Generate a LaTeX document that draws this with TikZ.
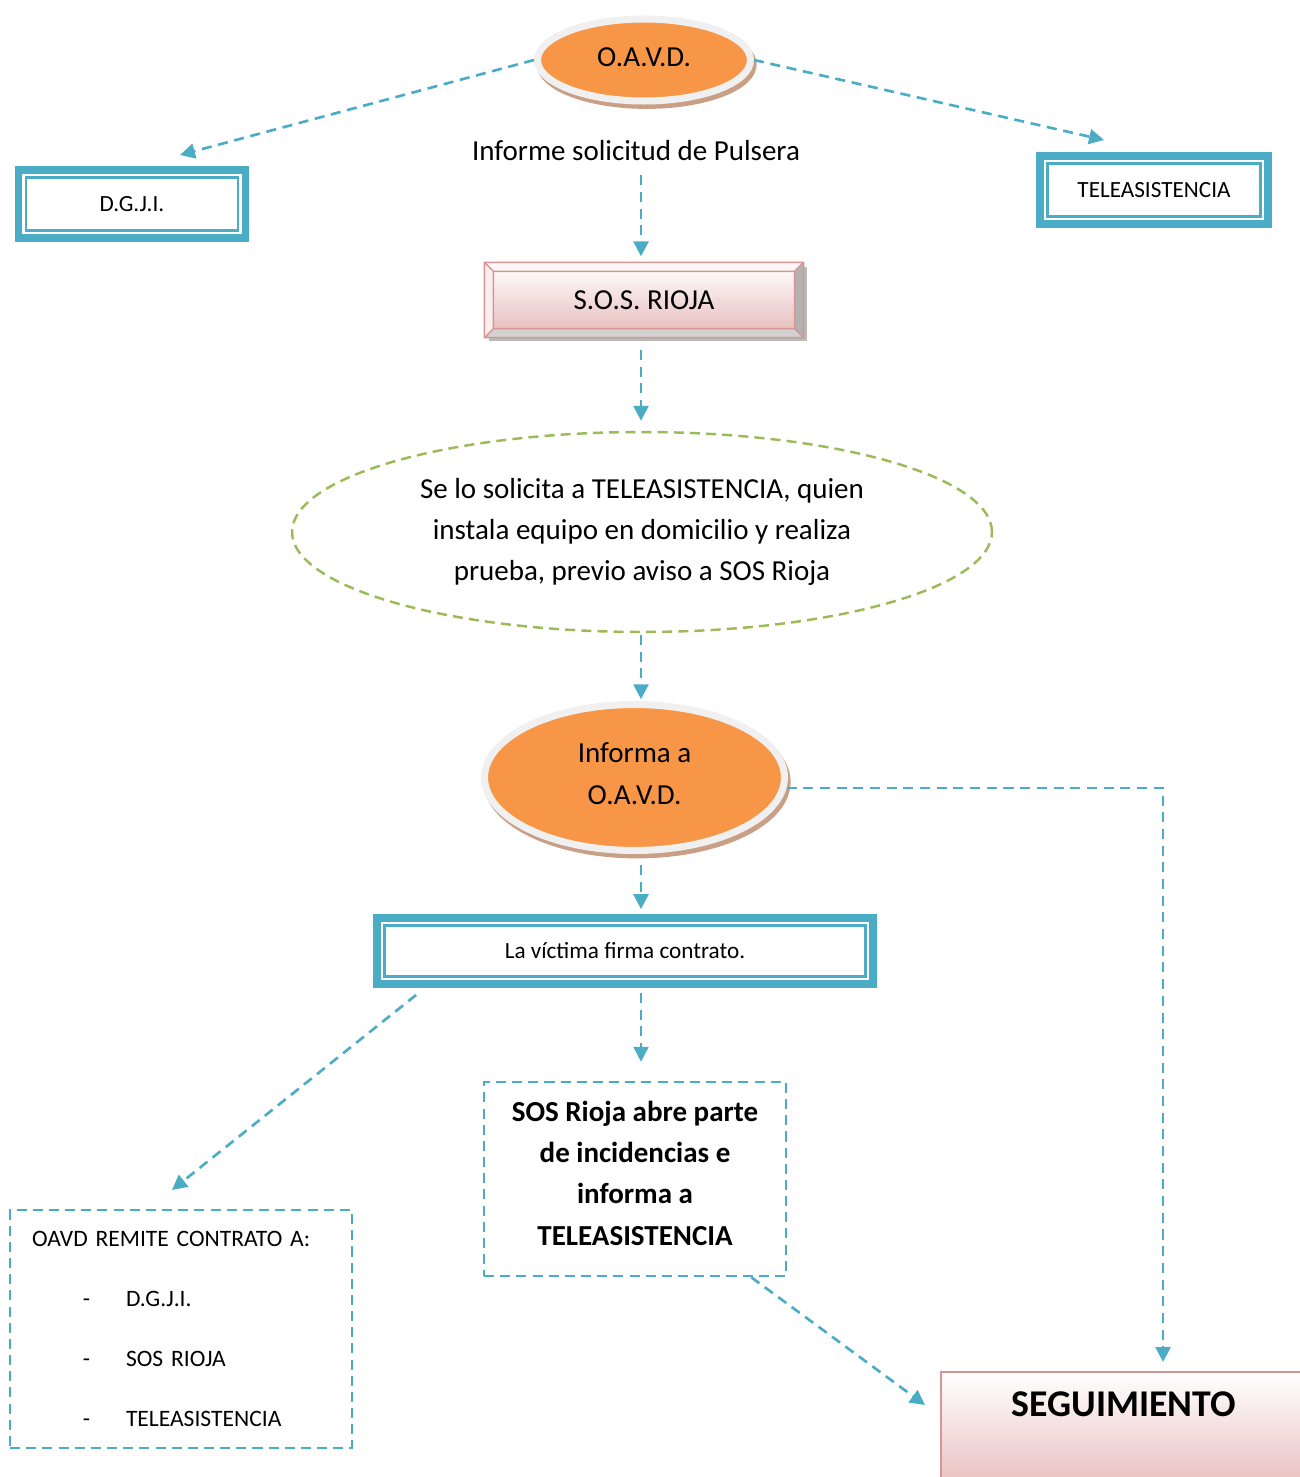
\documentclass[tikz,border=0pt]{standalone}
\usepackage{fontspec}
\setmainfont{Carlito}
\usetikzlibrary{shapes.geometric,arrows.meta}
\definecolor{azul}{HTML}{4BACC6}
\definecolor{naranja}{HTML}{F79646}
\definecolor{verde}{HTML}{9BBB59}
\definecolor{rosa}{HTML}{D99594}
\definecolor{rosaclaro}{HTML}{E6B9B8}
\definecolor{anillo}{HTML}{F0F0F0}
\definecolor{sombra}{HTML}{C9A086}
\begin{document}
\begin{tikzpicture}[x=0.02cm,y=-0.02cm,
	flecha/.style={azul,line width=1.5pt,dash pattern=on 5.7pt off 3.8pt,-{Triangle[length=8.5pt,width=8.5pt]}},
	marco/.style={draw=azul,line width=4.5pt,fill=white,font=\fontsize{13.2}{15}\selectfont},
	burbuja/.style={ellipse,fill=naranja,draw=anillo,line width=4pt,inner sep=0pt,align=center,
		preaction={fill=sombra,draw=sombra,line width=4pt,transform canvas={shift={(1.5pt,-2.5pt)}}},
		font=\fontsize{16.5}{24.4}\selectfont},
	caja/.style={draw=azul,line width=1.5pt,dash pattern=on 5.7pt off 3.5pt}]
	\useasboundingbox (0,0) rectangle (1300,1477);
	\clip (0,0) rectangle (1300,1477);
	% cabecera
	\node[burbuja,minimum width=4.26cm,minimum height=1.64cm] (oavd) at (644,60) {O.A.V.D.\rule[-3.4pt]{0pt}{3.4pt}};
	\node[font=\fontsize{16.5}{20}\selectfont] (informe) at (636,151) {Informe solicitud de Pulsera};
	\node[marco,minimum width=4.54cm,minimum height=1.36cm] (dgji) at (132,204) {D.G.J.I.};
	\node[marco,minimum width=4.56cm,minimum height=1.36cm] (tele) at (1154,190) {TELEASISTENCIA};
	% S.O.S. RIOJA
	\node[draw=rosa,line width=0.8pt,top color=white,bottom color=rosaclaro,minimum width=6.36cm,minimum height=1.48cm,
		preaction={fill=gray!55,transform canvas={shift={(2.5pt,-2.5pt)}}},font=\fontsize{16.5}{20}\selectfont] (sos) at (644,300) {S.O.S. RIOJA};
	\fill[rosa!8] (sos.north west) -- (sos.north east) -- ([shift={(-9,9)}]sos.north east) -- ([shift={(9,9)}]sos.north west) -- cycle;
	\fill[rosa!15] (sos.north west) -- (sos.south west) -- ([shift={(9,-9)}]sos.south west) -- ([shift={(9,9)}]sos.north west) -- cycle;
	\fill[gray!60] (sos.north east) -- (sos.south east) -- ([shift={(-9,-9)}]sos.south east) -- ([shift={(-9,9)}]sos.north east) -- cycle;
	\fill[gray!35] (sos.south west) -- (sos.south east) -- ([shift={(-9,-9)}]sos.south east) -- ([shift={(9,-9)}]sos.south west) -- cycle;
	\draw[rosa,line width=0.8pt] (sos.north west) rectangle (sos.south east)
		([shift={(9,9)}]sos.north west) rectangle ([shift={(-9,-9)}]sos.south east)
		(sos.north west) -- ([shift={(9,9)}]sos.north west) (sos.north east) -- ([shift={(-9,9)}]sos.north east)
		(sos.south west) -- ([shift={(9,-9)}]sos.south west) (sos.south east) -- ([shift={(-9,-9)}]sos.south east);
	% centro
	\node[ellipse,draw=verde,line width=1.4pt,dash pattern=on 5.7pt off 3.5pt,inner sep=0pt,minimum width=14cm,minimum height=4cm,
		align=center,font=\fontsize{16.5}{23.5}\selectfont] (pide) at (642,532) {Se lo solicita a TELEASISTENCIA, quien\\instala equipo en domicilio y realiza\\prueba, previo aviso a SOS Rioja};
	\node[burbuja,minimum width=6cm,minimum height=2.92cm] (avisa) at (634.5,777.5) {Informa a\\O.A.V.D.\rule[-4.5pt]{0pt}{4.5pt}};
	\node[marco,minimum width=9.92cm,minimum height=1.32cm] (firma) at (625,951) {La víctima firma contrato.};
	\foreach \caj in {dgji,tele,firma}
		\draw[azul,line width=1.3pt] ([shift={(11.5,11.5)}]\caj.north west) rectangle ([shift={(-11.5,-11.5)}]\caj.south east);
	% pie
	\node[caja,minimum width=6.04cm,minimum height=3.88cm,align=center,font=\bfseries\fontsize{16.5}{23.5}\selectfont] (parte) at (635,1179)
		{SOS Rioja abre parte\\de incidencias e\\informa a\\TELEASISTENCIA\rule[-6.8pt]{0pt}{6.8pt}};
	\node[caja,minimum width=6.84cm,minimum height=4.76cm,inner xsep=0.44cm,text width=5.96cm,align=left,font=\fontsize{13.4}{34}\selectfont] (remite) at (181,1329)
		{OAVD REMITE CONTRATO A:\\
		\hspace*{29pt}\makebox[24.5pt][l]{-}D.G.J.I.\\
		\hspace*{29pt}\makebox[24.5pt][l]{-}SOS RIOJA\\
		\hspace*{29pt}\makebox[24.5pt][l]{-}TELEASISTENCIA};
	\node[draw=rosa,line width=1.1pt,top color=white,bottom color=rosaclaro,anchor=north west,minimum width=7.32cm,
		text height=12pt,text depth=1.2cm,inner ysep=0.46cm,font=\bfseries\fontsize{21.5}{26}\selectfont] (seg) at (940,1371) {SEGUIMIENTO};
	% flechas
	\coordinate (eje) at (641,0);
	\coordinate (aDgji) at (180,155);
	\coordinate (aTele) at (1104,140);
	\coordinate (aRemite) at (172,1190);
	\coordinate (aSeg) at (925,1405);
	\coordinate (aSegArriba) at (1163,1362);
	\draw[flecha] (oavd.west) -- (aDgji);
	\draw[flecha] (oavd.east) -- (aTele);
	\draw[flecha,shorten <=4.5pt,shorten >=3.4pt] (eje |- informe.south) -- (eje |- sos.north);
	\draw[flecha,shorten <=7pt,shorten >=5.7pt] (eje |- sos.south) -- (eje |- pide.north);
	\draw[flecha,shorten <=1pt,shorten >=1pt] (eje |- pide.south) -- (eje |- avisa.north);
	\draw[flecha,shorten <=6.5pt,shorten >=2.8pt] (eje |- avisa.south) -- (eje |- firma.north);
	\draw[flecha] (avisa.-4) -| (aSegArriba);
	\draw[flecha] ([shift={(43,7)}]firma.south west) -- (aRemite);
	\draw[flecha,shorten <=2.8pt,shorten >=10.8pt] (eje |- firma.south) -- (eje |- parte.north);
	\draw[flecha] ([shift={(-36,0)}]parte.south east) -- (aSeg);
\end{tikzpicture}
\end{document}
